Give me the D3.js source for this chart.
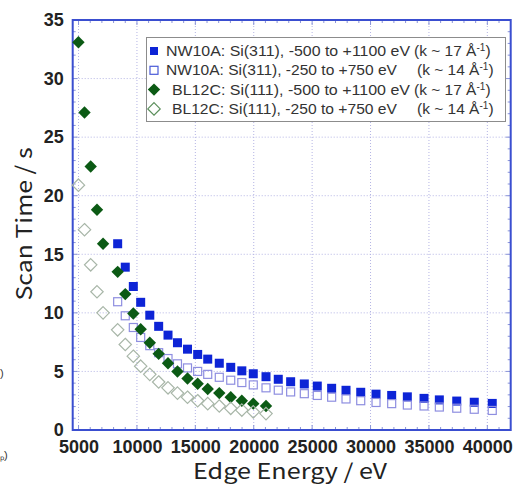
<!DOCTYPE html>
<html>
<head>
<meta charset="utf-8">
<script src="https://cdn.jsdelivr.net/npm/d3@7"></script>
<style>
  body { margin: 0; background: #fff; }
  svg { display: block; }
</style>
</head>
<body>
<svg width="517" height="486"></svg>
<script>
// edge energies (eV) shared by the series
var energyLow = [4990, 5510, 6040, 6580, 7100]
var energyMain = [8350, 9000, 9690, 10320, 11100, 11860, 12660, 13470, 14330, 15200,
  16060, 17050, 18030, 18980, 19960, 21050, 22100, 23160, 24330, 25440,
  26670, 27900, 29160, 30470, 31810, 33150, 34580, 35890, 37380, 38880, 40420]

// scan times (s)
var nwLong = [15.9, 13.9, 12.25, 10.9, 9.8, 8.85, 8.1, 7.45, 6.9, 6.45,
  6.05, 5.7, 5.35, 5.05, 4.8, 4.55, 4.33, 4.12, 3.93, 3.75,
  3.56, 3.39, 3.22, 3.06, 2.95, 2.83, 2.7, 2.57, 2.47, 2.37, 2.27]
var nwShort = [10.95, 9.75, 8.75, 7.9, 7.2, 6.6, 6.1, 5.65, 5.3, 5.0,
  4.75, 4.5, 4.25, 4.05, 3.85, 3.6, 3.4, 3.25, 3.1, 2.95,
  2.8, 2.65, 2.5, 2.35, 2.25, 2.13, 2.05, 1.96, 1.86, 1.77, 1.67]
var blLong = [33.1, 27.1, 22.5, 18.8, 15.9,
  13.5, 11.6, 9.95, 8.6, 7.45, 6.5, 5.7, 5.0, 4.4, 3.95,
  3.5, 3.15, 2.8, 2.5, 2.25, 2.05]
var blShort = [20.9, 17.1, 14.1, 11.8, 10.0,
  8.55, 7.3, 6.3, 5.45, 4.75, 4.1, 3.6, 3.15, 2.8, 2.5,
  2.25, 2.05, 1.85, 1.7, 1.55, 1.4]

var xTicks = [5000, 10000, 15000, 20000, 25000, 30000, 35000, 40000]
var yTicks = [0, 5, 10, 15, 20, 25, 30, 35]

var legendLabels = [
  ["NW10A: Si(311), -500 to +1100 eV", "(k ~ 17 Å"],
  ["NW10A: Si(311), -250 to +750 eV", "(k ~ 14 Å"],
  ["BL12C: Si(111), -500 to +1100 eV", "(k ~ 17 Å"],
  ["BL12C: Si(111), -250 to +750 eV", "(k ~ 14 Å"]
]

var blEnergy = energyLow.concat(energyMain.slice(0, 16))
var series = [
  { x: energyMain, y: nwLong, shape: "square", fill: "#0d24d6", stroke: "none", lfill: "#0d24d6", lstroke: "none" },
  { x: energyMain, y: nwShort, shape: "square", fill: "none", stroke: "#8e8ee0", lfill: "none", lstroke: "#4a5ad8" },
  { x: blEnergy, y: blLong, shape: "diamond", fill: "#0b5a14", stroke: "none", lfill: "#0b5a14", lstroke: "none" },
  { x: blEnergy, y: blShort, shape: "diamond", fill: "none", stroke: "#a8b6a8", lfill: "none", lstroke: "#5a8e5a" }
]

var svg = d3.select("svg")
var x = d3.scaleLinear().domain([4500, 42000]).range([72.7, 510.7])
var y = d3.scaleLinear().domain([0, 35]).range([430, 20])
var x0 = x.range()[0], x1 = x.range()[1], y0 = y.range()[0], y1 = y.range()[1]

// dotted grid
var grid = svg.append("g").attr("stroke", "#b4b4e4").attr("stroke-width", 1).attr("stroke-dasharray", "1,2")
grid.selectAll(".gx").data(xTicks).enter().append("line")
  .attr("x1", d => x(d)).attr("x2", d => x(d)).attr("y1", y1).attr("y2", y0)
grid.selectAll(".gy").data(yTicks.slice(1, -1)).enter().append("line")
  .attr("x1", x0).attr("x2", x1).attr("y1", d => y(d)).attr("y2", d => y(d))

// minor ticks, inside the frame
var minorX = d3.range(5000, 42000, 1000)
var minorY = d3.range(1, 35, 1)
var ticks = svg.append("g").attr("stroke", "#8a94d8").attr("stroke-width", 1)
ticks.selectAll(".mxb").data(minorX).enter().append("line")
  .attr("x1", d => x(d)).attr("x2", d => x(d)).attr("y1", y0).attr("y2", d => y0 - (d % 5000 ? 3 : 5))
ticks.selectAll(".mxt").data(minorX).enter().append("line")
  .attr("x1", d => x(d)).attr("x2", d => x(d)).attr("y1", y1).attr("y2", d => y1 + (d % 5000 ? 3 : 5))
ticks.selectAll(".myl").data(minorY).enter().append("line")
  .attr("y1", d => y(d)).attr("y2", d => y(d)).attr("x1", x0).attr("x2", d => x0 + (d % 5 ? 3 : 5))
ticks.selectAll(".myr").data(minorY).enter().append("line")
  .attr("y1", d => y(d)).attr("y2", d => y(d)).attr("x1", x1).attr("x2", d => x1 - (d % 5 ? 3 : 5))

// frame
svg.append("rect").attr("x", x0).attr("y", y1).attr("width", x1 - x0).attr("height", y0 - y1)
  .attr("fill", "none").attr("stroke", "#3a4ed0").attr("stroke-width", 2)

// axes labels through d3 axes
var tickFont = "'Liberation Sans Narrow', 'Arial Narrow', 'Liberation Sans', sans-serif"
svg.append("g").attr("transform", "translate(0," + y0 + ")")
  .call(d3.axisBottom(x).tickValues(xTicks).tickSize(0).tickPadding(10).tickFormat(d3.format("d")))
svg.append("g").attr("transform", "translate(" + x0 + ",0)")
  .call(d3.axisLeft(y).tickValues(yTicks).tickSize(0).tickPadding(9).tickFormat(d3.format("d")))
svg.selectAll(".domain").remove()
svg.selectAll(".tick text").attr("font-family", tickFont).attr("font-size", 18)
  .attr("font-weight", "bold").attr("fill", "#222")

// markers
function marker(sel, shape, s) {
  if (shape === "square") {
    return sel.append("rect").attr("x", -s / 2).attr("y", -s / 2).attr("width", s).attr("height", s)
  }
  var h = s * 0.62
  return sel.append("path").attr("d", "M0," + (-h) + "L" + h + ",0L0," + h + "L" + (-h) + ",0Z")
}

series.forEach(function (sr) {
  var pts = sr.y.map((v, i) => [sr.x[i], v])
  var m = svg.append("g").selectAll("g").data(pts).enter().append("g")
    .attr("transform", d => "translate(" + x(d[0]) + "," + y(d[1]) + ")")
  marker(m, sr.shape, sr.shape === "square" ? (sr.fill === "none" ? 8 : 9) : 10)
    .attr("fill", sr.fill).attr("stroke", sr.stroke).attr("stroke-width", 1.2)
})

// legend
var lg = svg.append("g")
var legFont = "'Liberation Sans', Arial, sans-serif"
var legStart = [166, 166, 172, 172]
var legEnd = [410, 397, 410, 397]
var kStart = [414, 417, 414, 417]
lg.append("rect").attr("x", 146.5).attr("y", 37.5).attr("width", 359).attr("height", 84)
  .attr("fill", "#fff").attr("stroke", "#8c8c8c").attr("stroke-width", 1)
legendLabels.forEach(function (lab, i) {
  var yy = 51 + i * 19.3
  var sr = series[i]
  var m = lg.append("g").attr("transform", "translate(154," + yy + ")")
  marker(m, sr.shape, sr.shape === "square" ? 8 : 10)
    .attr("fill", sr.lfill).attr("stroke", sr.lstroke).attr("stroke-width", 1.2)
  lg.append("text").attr("x", legStart[i]).attr("y", yy + 5)
    .attr("font-family", legFont).attr("font-size", 15.5).attr("fill", "#333")
    .attr("textLength", legEnd[i] - legStart[i]).attr("lengthAdjust", "spacingAndGlyphs")
    .text(lab[0])
  var t = lg.append("text").attr("x", kStart[i]).attr("y", yy + 5)
    .attr("font-family", legFont).attr("font-size", 15.5).attr("fill", "#333")
  t.append("tspan").text(lab[1])
  t.append("tspan").attr("dy", -5).attr("font-size", 10).text("-1")
  t.append("tspan").attr("dy", 5).text(")")
})

// axis titles
var titleFont = "'Noto Sans CJK JP', 'DejaVu Sans', sans-serif"
svg.append("text").attr("x", 290).attr("y", 479).attr("text-anchor", "middle")
  .attr("font-family", titleFont).attr("font-size", 21).attr("fill", "#222")
  .attr("textLength", 194).attr("lengthAdjust", "spacingAndGlyphs")
  .style("white-space", "pre").text("Edge Energy / eV")
svg.append("text").attr("transform", "translate(32,224) rotate(-90)").attr("text-anchor", "middle")
  .attr("font-family", titleFont).attr("font-size", 22).attr("fill", "#222")
  .attr("textLength", 153).attr("lengthAdjust", "spacingAndGlyphs")
  .style("white-space", "pre").text("Scan Time / s")

// cropped fragments at the left edge
svg.append("text").attr("x", 0).attr("y", 377).attr("font-size", 11)
  .attr("font-family", "'Liberation Sans', sans-serif").attr("fill", "#333").text(")")
svg.append("text").attr("x", 0).attr("y", 459).attr("font-size", 11)
  .attr("font-family", "'Liberation Sans', sans-serif").attr("fill", "#333").text("ₚ)")
</script>
</body>
</html>
